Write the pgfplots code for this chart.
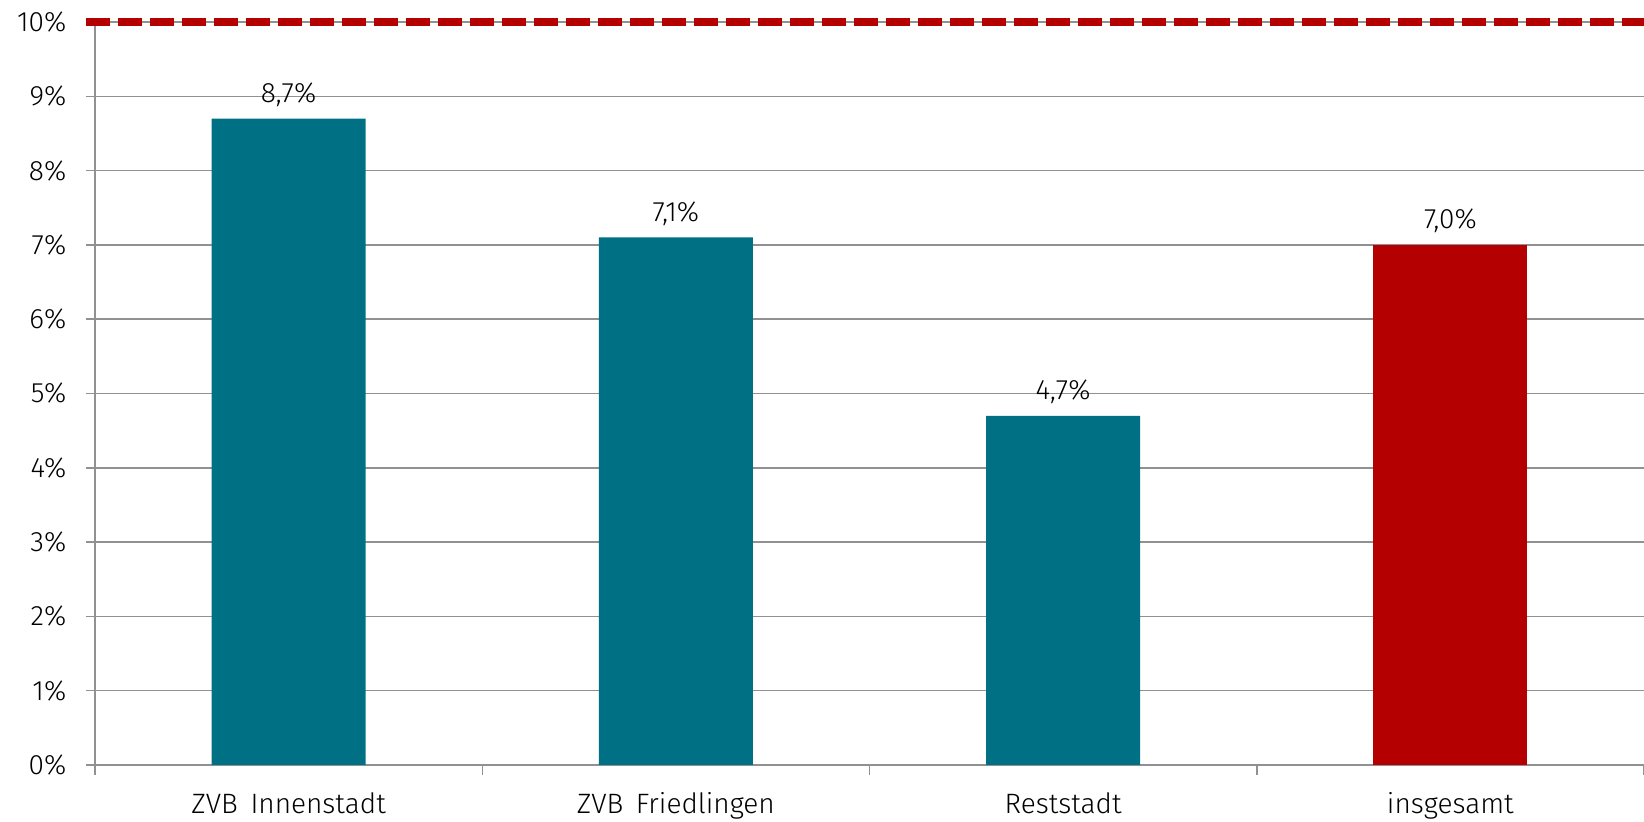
\documentclass[border=0pt]{standalone}
\usepackage{pgfplots}
\pgfplotsset{compat=1.18}
\usepackage{fontspec}
\setmainfont{Fira Sans}[UprightFont={* Light}]
\definecolor{teal1}{RGB}{0,113,132}
\definecolor{red1}{RGB}{180,0,0}
\definecolor{grid1}{RGB}{145,145,145}
\newcommand{\lblfont}{\fontsize{14}{17}\selectfont}
\begin{document}
\lblfont
\begin{tikzpicture}
\begin{axis}[
  at={(0,0)}, anchor=south west,
  scale only axis, width=774.5pt, height=371.5pt,
  xmin=-0.5, xmax=3.5, ymin=0, ymax=10,
  clip=false,
  axis lines*=left,
  axis line style={grid1, line width=0.75pt},
  ytick={0,1,...,10},
  yticklabels={0\%,1\%,2\%,3\%,4\%,5\%,6\%,7\%,8\%,9\%,10\%},
  ymajorgrids, grid style={grid1, line width=0.75pt},
  tick align=outside,
  major tick length=4.5pt,
  minor tick length=5pt,
  y tick style={grid1, line width=0.75pt},
  xtick={0,1,2,3},
  xticklabels={ZVB\hspace{0.45em}Innenstadt, ZVB\hspace{0.45em}Friedlingen, Reststadt, insgesamt},
  x tick style={draw=none},
  minor xtick={-0.5,0.5,1.5,2.5,3.5},
  minor x tick style={draw=grid1, line width=0.75pt},
  tick label style={font=\lblfont},
  yticklabel style={anchor=east, xshift=-5pt},
  xticklabel style={anchor=north, yshift=-4.5pt},
  ybar, bar width=77pt, bar shift=0pt,
]
\addplot[fill=teal1, draw=none, nodes near coords, point meta=explicit symbolic,
  every node near coord/.append style={font=\lblfont, yshift=1pt}]
  coordinates {(0,8.7)[8,7\%] (1,7.1)[7,1\%] (2,4.7)[4,7\%]};
\addplot[fill=red1, draw=none, nodes near coords, point meta=explicit symbolic,
  every node near coord/.append style={font=\lblfont, yshift=1pt}]
  coordinates {(3,7.0)[7,0\%]};
\addplot[sharp plot, red1, line width=4pt, dash pattern=on 12pt off 4pt, no markers, forget plot]
  coordinates {(-0.5233,10) (3.5,10)};
\coordinate (bl) at (rel axis cs:0,0);
\coordinate (tr) at (rel axis cs:1,1);
\end{axis}
\pgfresetboundingbox
\path[use as bounding box] ([shift={(-47.5pt,-28.5pt)}]bl) rectangle ([shift={(0pt,11pt)}]tr);
\end{tikzpicture}
\end{document}
